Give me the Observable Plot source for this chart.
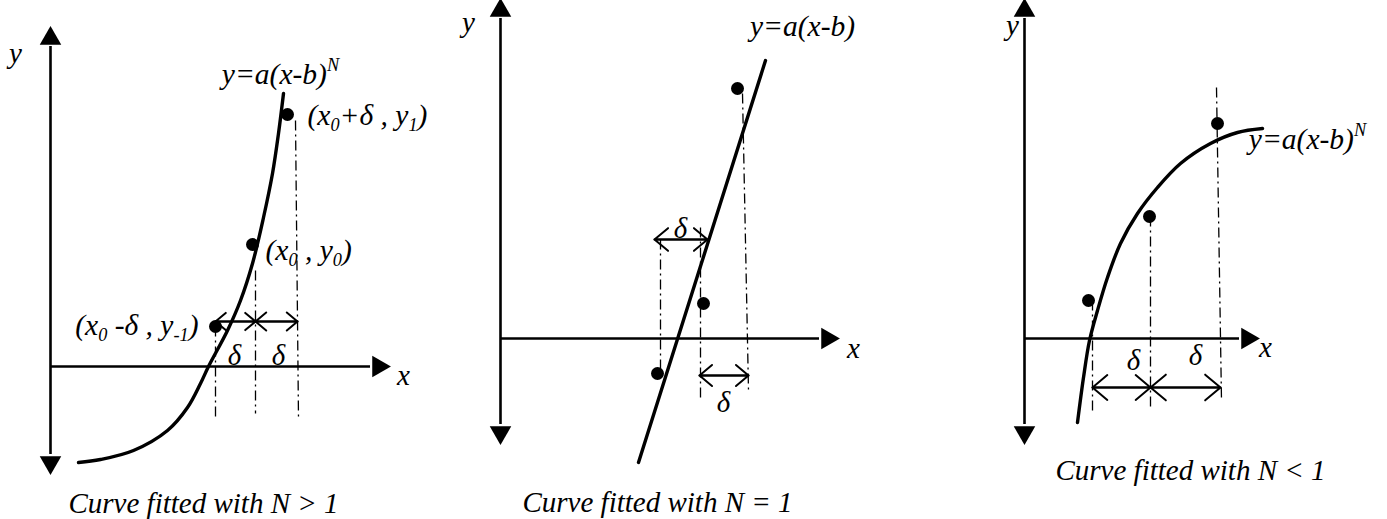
<!DOCTYPE html>
<html><head><meta charset="utf-8">
<script src="https://cdn.jsdelivr.net/npm/d3@7"></script>
<script src="https://cdn.jsdelivr.net/npm/@observablehq/plot@0.6"></script>
<style>
body{margin:0;background:#fff;}
#wrap{position:relative;width:1387px;height:519px;overflow:hidden;}
#wrap svg{position:absolute;top:0;}
</style></head><body><div id="wrap"></div>
<script>
// ---------- Panel 1 : N > 1 (local units, origin at axes crossing, y up) ----------
const p1Curve = [[28,-96],[50,-93],[83,-84],[117,-64],[137,-41],[150,-17],[158,0],[177,36],[190,66],[202,103],[213,149],[222,193],[228,233],[233,273]];
const p1Points = [[165,40],[202,122],[237,252]];
const p1Guides = [[165,40,165,-52],[205,96,205,-47],[245,246,248,-52]];
const p1Spans = [[165,205,45],[205,247,45]];
const p1Deltas = [[184,11],[228,11]];
const p1Axes = {yLo:-96, yHi:328, xHi:328};
const p1Labels = [
  {x:230, y:292, text:"y=a(x-b)^{N}", anchor:"middle"},
  {x:257, y:251, text:"(x_{0}+δ , y_{1})", anchor:"start"},
  {x:215, y:116, text:"(x_{0} , y_{0})", anchor:"start"},
  {x:148, y:41, text:"(x_{0} -δ , y_{-1})", anchor:"end"}
];
const p1AxisNames = [{x:-35, y:313, text:"y"},{x:353, y:-9, text:"x"}];
const p1Caption = {x:153, y:-137, text:"Curve fitted with N > 1"};

// ---------- Panel 2 : N = 1 ----------
const p2Curve = [[138,-124],[265,278]];
const p2Points = [[157,-35],[203,35],[237,250]];
const p2Guides = [[160,99,160,-35],[200,111,200,-62],[242,245,248,-52]];
const p2Spans = [[154,207,99],[199,248,-37]];
const p2Deltas = [[180,110],[223,-64]];
const p2Axes = {yLo:-94, yHi:328, xHi:327};
const p2Labels = [
  {x:302, y:312, text:"y=a(x-b)", anchor:"middle"}
];
const p2AxisNames = [{x:-32, y:316, text:"y"},{x:353, y:-10, text:"x"}];
const p2Caption = {x:157, y:-164, text:"Curve fitted with N = 1"};

// ---------- Panel 3 : N < 1 ----------
const p3Curve = [[53,-84],[59,-39],[65,-2],[73,28],[83,61],[96,95],[113,125],[133,151],[156,175],[186,195],[213,206],[238,210]];
const p3Points = [[64,38],[125,122],[193,215]];
const p3Guides = [[68,38,68,-74],[126,122,126,-69],[192,251,197,-62]];
const p3Spans = [[68,126,-49],[126,196,-49]];
const p3Deltas = [[109,-22],[171,-17]];
const p3Axes = {yLo:-94, yHi:328, xHi:223};
const p3Labels = [
  {x:283, y:199, text:"y=a(x-b)^{N}", anchor:"middle"}
];
const p3AxisNames = [{x:-12, y:313, text:"y"},{x:241, y:-9, text:"x"}];
const p3Caption = {x:166, y:-132, text:"Curve fitted with N < 1"};

const FONT = "Liberation Serif";
const LABEL_SIZE = 29.5;

function panel(cfg) {
  const {curve, points, guides, spans, deltas, axes, labels, axisNames, caption, curveType} = cfg;
  const tips = [
    {x:0, y:axes.yHi, rot:0},
    {x:0, y:axes.yLo, rot:180},
    {x:axes.xHi, y:0, rot:90}
  ];
  const arrows = [];
  spans.forEach(([a,b,y]) => { arrows.push({x1:a,x2:b,y}); arrows.push({x1:b,x2:a,y}); });
  const txt = {fontFamily: FONT, fontStyle: "italic", fill: "black"};
  return Plot.plot({
    width: cfg.width, height: 519,
    margin: 0,
    style: {fontFamily: FONT, background: "transparent"},
    x: {domain: cfg.xDomain, axis: null},
    y: {domain: cfg.yDomain, axis: null},
    marks: [
      Plot.ruleX([0], {y1: axes.yLo + 8, y2: axes.yHi - 8, strokeWidth: 2.6}),
      Plot.ruleY([0], {x1: 0, x2: axes.xHi - 8, strokeWidth: 2.6}),
      Plot.dot(tips, {x: "x", y: "y", rotate: "rot", symbol: "triangle", r: 8, fill: "black", stroke: null}),
      Plot.link(guides, {x1: d => d[0], y1: d => d[1], x2: d => d[2], y2: d => d[3],
        stroke: "black", strokeWidth: 1.3, strokeDasharray: "10,4,2,4"}),
      Plot.arrow(arrows, {x1: "x1", x2: "x2", y1: "y", y2: "y", stroke: "black", strokeWidth: 2,
        headLength: 15, headAngle: 80, inset: 0}),
      Plot.line(curve, {x: d => d[0], y: d => d[1], curve: curveType, stroke: "black", strokeWidth: 3.4}),
      Plot.dot(points, {x: d => d[0], y: d => d[1], r: 6.5, fill: "black", stroke: null}),
      Plot.text(deltas, {x: d => d[0], y: d => d[1], text: () => "δ", fontSize: 29, ...txt}),
      ...["start", "middle", "end"].map(a =>
        Plot.text(labels.filter(l => l.anchor === a), {x: "x", y: "y", text: "text", textAnchor: a, fontSize: LABEL_SIZE, ...txt})),
      Plot.text(axisNames, {x: "x", y: "y", text: "text", fontSize: 29, ...txt}),
      Plot.text([caption], {x: "x", y: "y", text: "text", fontSize: 29, ...txt})
    ]
  });
}

// turn "_{..}" / "^{..}" markup into real sub/superscript tspans
function richText(svg) {
  d3.select(svg).selectAll("text").each(function() {
    const t = this.textContent;
    if (!/[_^]\{/.test(t)) return;
    const fs = parseFloat(getComputedStyle(this).fontSize) || LABEL_SIZE;
    const node = d3.select(this);
    node.text(null);
    const re = /([_^])\{([^}]*)\}/g;
    let last = 0, m, shift = 0;
    const add = (str, kind) => {
      if (!str) return;
      const sp = node.append("tspan").text(str);
      const target = kind === "_" ? fs * 0.22 : kind === "^" ? -fs * 0.45 : 0;
      const dy = target - shift;
      if (dy) sp.attr("dy", dy.toFixed(2));
      shift = target;
      if (kind) sp.attr("font-size", (fs * 0.62).toFixed(1));
    };
    while ((m = re.exec(t))) {
      add(t.slice(last, m.index), null);
      add(m[2], m[1]);
      last = re.lastIndex;
    }
    add(t.slice(last), null);
  });
}

const wrap = document.getElementById("wrap");
const panels = [
  {left: 0, width: 430, xDomain: [-50, 380], yDomain: [-153, 366], curveType: "catmull-rom",
   curve: p1Curve, points: p1Points, guides: p1Guides, spans: p1Spans, deltas: p1Deltas, axes: p1Axes, labels: p1Labels, axisNames: p1AxisNames, caption: p1Caption},
  {left: 430, width: 510, xDomain: [-70, 440], yDomain: [-181, 338], curveType: "linear",
   curve: p2Curve, points: p2Points, guides: p2Guides, spans: p2Spans, deltas: p2Deltas, axes: p2Axes, labels: p2Labels, axisNames: p2AxisNames, caption: p2Caption},
  {left: 940, width: 447, xDomain: [-84, 363], yDomain: [-181, 338], curveType: "catmull-rom",
   curve: p3Curve, points: p3Points, guides: p3Guides, spans: p3Spans, deltas: p3Deltas, axes: p3Axes, labels: p3Labels, axisNames: p3AxisNames, caption: p3Caption}
];
panels.forEach(cfg => {
  const svg = panel(cfg);
  svg.style.left = cfg.left + "px";
  svg.style.overflow = "visible";
  wrap.appendChild(svg);
  richText(svg);
});
</script>
</body></html>
